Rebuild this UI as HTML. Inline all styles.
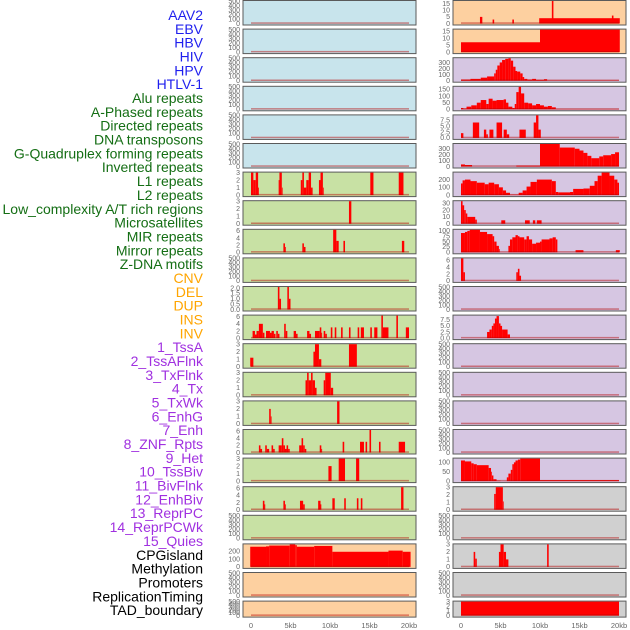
<!DOCTYPE html>
<html><head><meta charset="utf-8"><style>
html,body{margin:0;padding:0;background:#fff;width:630px;height:630px;overflow:hidden}
svg{display:block;font-family:"Liberation Sans",sans-serif}
</style></head><body>
<svg id="chart" width="630" height="630" viewBox="0 0 630 630"></svg>
<script>
const labels=["AAV2","EBV","HBV","HIV","HPV","HTLV-1","Alu repeats","A-Phased repeats","Directed repeats","DNA transposons","G-Quadruplex forming repeats","Inverted repeats","L1 repeats","L2 repeats","Low_complexity A/T rich regions","Microsatellites","MIR repeats","Mirror repeats","Z-DNA motifs","CNV","DEL","DUP","INS","INV","1_TssA","2_TssAFlnk","3_TxFlnk","4_Tx","5_TxWk","6_EnhG","7_Enh","8_ZNF_Rpts","9_Het","10_TssBiv","11_BivFlnk","12_EnhBiv","13_ReprPC","14_ReprPCWk","15_Quies","CPGisland","Methylation","Promoters","ReplicationTiming","TAD_boundary"];
const labelColors=["#1f1fee","#1f1fee","#1f1fee","#1f1fee","#1f1fee","#1f1fee","#146e14","#146e14","#146e14","#146e14","#146e14","#146e14","#146e14","#146e14","#146e14","#146e14","#146e14","#146e14","#146e14","#ffa500","#ffa500","#ffa500","#ffa500","#ffa500","#a030e0","#a030e0","#a030e0","#a030e0","#a030e0","#a030e0","#a030e0","#a030e0","#a030e0","#a030e0","#a030e0","#a030e0","#a030e0","#a030e0","#a030e0","#000","#000","#000","#000","#000"];
const leftBg=["#c8e4ec","#c8e4ec","#c8e4ec","#c8e4ec","#c8e4ec","#c8e4ec","#c8e1a4","#c8e1a4","#c8e1a4","#c8e1a4","#c8e1a4","#c8e1a4","#c8e1a4","#c8e1a4","#c8e1a4","#c8e1a4","#c8e1a4","#c8e1a4","#c8e1a4","#fdd0a0","#fdd0a0","#fdd0a0"];
const rightBg=["#fdd0a0","#fdd0a0","#d6c6e2","#d6c6e2","#d6c6e2","#d6c6e2","#d6c6e2","#d6c6e2","#d6c6e2","#d6c6e2","#d6c6e2","#d6c6e2","#d6c6e2","#d6c6e2","#d6c6e2","#d6c6e2","#d6c6e2","#d0d0d0","#d0d0d0","#d0d0d0","#d0d0d0","#d0d0d0"];
const E=[0,100,200,300,400,500];
const T3=[0,1,2,3], T6=[0,2,4,6];
const leftMax=[500,500,500,500,500,500,3,3,6.3,500,2.1,6.3,3,3,3,6.3,3,6.3,500,290,500,500];
const leftTicks=[E,E,E,E,E,E,T3,T3,T6,E,[0,0.5,1,1.5,2],T6,T3,T3,T3,T6,T3,T6,E,[0,100,200],E,E];
const rightMax=[17,16,370,170,9.5,380,290,33,105,6.5,500,9.2,500,500,500,500,120,3,500,3,500,3];
const rightTicks=[[0,5,10,15],[0,5,10,15],[0,100,200,300],[0,50,100,150],[0,2.5,5,7.5],[0,100,200,300],[0,100,200],[0,10,20,30],[0,25,50,75,100],T6,E,[0,2.5,5,7.5],E,E,E,E,[0,50,100],T3,E,T3,E,T3];
const leftSegs=[[],[],[],[],[],[],
[[0,0.3,3],[0.3,0.6,2],[0.6,0.9,3],[0.9,1.0,1],[3.5,3.6,2],[3.6,3.9,3],[3.9,4.0,1],[6.3,6.5,2],[6.5,6.7,3],[6.7,7.0,1],[7.0,7.3,2],[7.3,7.6,3],[7.6,7.8,1],[8.6,8.8,2],[8.8,9.1,3],[9.1,9.2,1],[15.1,15.5,3],[18.7,19.3,3]],
[[12.4,12.7,3]],
[[4.1,4.3,2.5],[4.3,4.4,1.5],[6.5,6.7,2.5],[6.7,6.9,1.5],[10.4,10.8,6.3],[10.8,11.1,3.2],[11.7,11.9,3.2],[19.1,19.4,3.2]],
[],
[[3.4,3.6,2.1],[3.6,3.8,1],[4.6,4.8,2.1],[4.8,5.0,1]],
[[0.2,0.5,2],[0.5,0.7,1],[0.7,1.0,2],[1.0,1.5,4],[1.5,1.7,1.5],[1.9,2.4,2],[2.4,2.6,1.5],[2.6,2.9,2],[2.9,3.1,1.2],[3.2,3.4,2],[3.4,3.6,1.2],[4.2,4.4,4],[4.4,4.6,2],[5.4,5.7,2],[5.7,5.9,1.2],[7.1,7.4,2],[7.4,7.6,1.2],[8.1,8.7,2],[8.7,8.9,3],[8.9,9.0,1.5],[9.2,9.4,2],[9.4,9.6,1.2],[10.1,10.3,3],[10.6,10.8,3],[11.4,11.6,3],[12.4,12.6,3],[13.5,13.7,3],[13.9,14.3,3],[15.1,15.3,3],[15.6,16.0,3],[16.5,16.7,6.3],[16.7,17.4,3],[18.4,18.6,6.3],[19.6,20.0,3]],
[[-0.1,0.3,1.2],[7.9,8.1,2],[8.1,8.6,3],[8.6,8.9,1],[12.4,13.4,3]],
[[6.9,7.1,2],[7.1,7.3,3],[7.3,7.6,2],[7.6,7.8,3],[7.8,8.1,2],[8.1,8.3,1],[9.2,9.4,2],[9.4,10.1,3],[10.1,10.4,1]],
[[2.3,2.5,2],[2.5,2.6,1],[10.9,11.2,3]],
[[1.0,1.2,2],[1.2,1.4,1],[1.8,2.0,2],[2.0,2.3,1],[2.6,2.8,2],[2.8,3.0,1],[3.5,3.9,2],[3.9,4.1,4],[4.1,4.3,2],[4.3,4.5,1],[4.5,4.7,2],[4.7,4.9,1],[6.1,6.4,2],[6.4,6.6,4],[6.6,6.8,2],[6.8,7.0,1],[8.7,8.9,2],[8.9,9.0,1],[11.6,11.8,3],[13.8,14.3,3],[14.5,14.7,3],[15.0,15.2,6.3],[16.2,16.4,3],[18.7,19.5,3]],
[[9.8,10.2,2],[11.1,11.9,3],[13.3,13.7,3]],
[[1.5,1.7,2.5],[1.7,1.8,1.5],[4.1,4.3,2.5],[4.3,4.4,1.5],[6.2,6.6,2.5],[6.6,6.8,1.5],[8.5,8.8,2.5],[8.8,8.9,1.5],[10.3,10.6,3.2],[11.8,12.0,3.2],[13.4,13.6,3.2],[13.9,14.1,3.2],[19.0,19.3,6.3]],
[],
[[-0.1,1.9,260],[1.9,2.3,265],[2.3,4.9,275],[4.9,5.6,290],[5.6,5.8,280],[5.8,8.0,260],[8.0,10.3,270],[10.3,17.4,195],[17.4,19.2,210],[19.2,20.2,195]],
[],[]];
const rightSegs=[
[[2.4,2.7,5],[4.0,4.2,3],[6.5,6.7,3],[9.9,20.1,4],[11.5,11.7,17],[19.1,19.3,6]],
[[0,10,7],[10,20.1,16]],
[[0,1.2,20],[1.2,2.5,30],[2.5,3.3,50],[3.3,4.2,70],[4.2,4.4,120],[4.4,4.6,180],[4.6,4.9,250],[4.9,5.2,300],[5.2,5.6,340],[5.6,6.0,360],[6.0,6.3,370],[6.3,6.6,330],[6.6,6.9,230],[6.9,7.1,160],[7.1,7.5,150],[7.5,7.8,120],[7.8,8.0,60],[8.0,8.4,30],[8.4,9.0,20],[9.0,9.5,30],[9.5,10.5,15],[10.5,10.9,25],[10.9,20,4]],
[[0,0.3,10],[0.3,0.7,5],[0.7,1.3,20],[1.3,2.0,30],[2.0,2.5,50],[2.5,3.2,70],[3.2,3.5,40],[3.5,4.0,80],[4.0,4.5,65],[4.5,5.4,70],[5.4,5.7,75],[5.7,6.0,50],[6.0,6.5,20],[6.5,6.8,10],[6.8,7.0,40],[7.0,7.3,130],[7.3,7.6,170],[7.6,8.0,120],[8.0,8.5,50],[8.5,9.0,45],[9.0,9.5,30],[9.5,10.0,40],[10.0,10.5,30],[10.5,11.0,20],[11.0,11.5,25],[11.5,12.0,15],[12.0,20,2]],
[[0,0.3,2],[1.5,2.3,6.5],[2.9,3.2,3.5],[3.2,3.4,1.5],[3.6,4.1,3.5],[4.5,5.2,6.5],[5.4,5.8,3.5],[5.8,6.1,1.5],[7.4,8.2,3.5],[9.2,9.5,6.5],[9.5,9.8,9.5],[9.8,10.1,3.5]],
[[0,0.5,35],[0.5,1.4,25],[7.0,10.0,15],[10.0,12.5,380],[12.5,14.4,320],[14.4,15.0,300],[15.0,15.5,270],[15.5,16.0,230],[16.0,16.5,180],[16.5,17.5,140],[17.5,18.0,170],[18.0,19.0,190],[19.0,19.5,210],[19.5,20.0,240]],
[[0,0.2,150],[0.2,0.5,190],[0.5,1.2,200],[1.2,2.0,180],[2.0,3.0,160],[3.0,3.5,140],[3.5,4.2,160],[4.2,4.8,140],[4.8,5.3,100],[5.3,5.7,60],[5.7,6.2,30],[6.2,7.3,5],[7.3,7.8,30],[7.8,8.3,60],[8.3,8.8,110],[8.8,9.6,170],[9.6,11.5,200],[11.5,12.0,180],[12.0,12.3,40],[12.3,13.8,35],[13.8,14.2,40],[14.2,15.5,80],[15.5,16.3,85],[16.3,16.9,120],[16.9,17.3,180],[17.3,17.8,250],[17.8,18.8,290],[18.8,19.4,250],[19.4,19.8,200],[19.8,20.0,160]],
[[0,0.2,33],[0.2,0.4,27],[0.4,0.6,20],[0.6,0.8,15],[0.8,1.8,10],[1.8,2.0,6],[5.1,5.6,5],[8.1,8.7,5],[9.1,9.4,5],[9.6,10.2,5]],
[[0,0.5,90],[0.5,0.8,95],[0.8,1.1,100],[1.1,2.4,105],[2.4,3.3,95],[3.3,4.0,85],[4.0,4.2,75],[4.2,4.5,50],[4.5,4.8,30],[4.8,4.9,15],[6.0,6.2,30],[6.2,6.5,60],[6.5,6.9,70],[6.9,7.2,80],[7.2,7.4,75],[7.4,8.0,70],[8.0,8.3,60],[8.3,8.6,75],[8.6,9.0,60],[9.0,9.5,40],[9.5,10.0,45],[10.0,10.2,50],[10.2,11.2,60],[11.2,11.6,65],[11.6,12.0,70],[12.0,12.2,60],[14.5,15.5,10],[19.6,20.1,10]],
[[0,0.3,6.5],[0.3,0.5,2.5],[7.0,7.2,2.5],[7.2,7.4,3.5],[7.4,7.6,1.5]],
[],
[[3.3,3.6,2.5],[3.6,3.9,3.5],[3.9,4.1,5],[4.1,4.3,6],[4.3,4.5,8],[4.5,4.8,9],[4.8,5.0,6],[5.0,5.2,5],[5.2,5.9,3.5],[5.9,6.2,1.5]],
[],[],[],[],
[[0,0.5,110],[0.5,1.3,105],[1.3,1.6,95],[1.6,2.0,90],[2.0,3.5,85],[3.5,3.8,70],[3.8,3.9,50],[3.9,4.1,30],[4.1,4.5,10],[4.5,5.0,2],[5.8,6.0,20],[6.0,6.3,40],[6.3,6.5,60],[6.5,6.7,90],[6.7,6.9,100],[6.9,7.2,110],[7.2,7.5,115],[7.5,10.0,120],[10.0,20.0,5]],
[[4.2,4.4,2.1],[4.4,5.3,3],[5.3,5.4,1.1]],
[],
[[1.6,1.8,2],[1.8,2.0,1.1],[4.8,5.0,2],[5.0,5.4,3],[5.4,5.7,2],[5.7,6.0,1],[10.9,11.1,3]],
[],
[[0,20,3]]];
const xTickVals=[0,5,10,15,20];
const xTickLabels=["0","5kb","10kb","15kb","20kb"];

const NS="http://www.w3.org/2000/svg";
const svg=document.getElementById('chart');
function mk(tag,attrs,parent){const e=document.createElementNS(NS,tag);for(const k in attrs)e.setAttribute(k,attrs[k]);(parent||svg).appendChild(e);return e;}
const cols=[{x:243,x0:251,bg:leftBg,max:leftMax,ticks:leftTicks,segs:leftSegs,side:'left'},{x:453,x0:461,bg:rightBg,max:rightMax,ticks:rightTicks,segs:rightSegs,side:'right'}];
const PW=173, KB=7.9;
function xScale(c,kb){return c.x0+kb*KB;}
function fmt(v,arr){const dec=arr.some(t=>t%1!==0);return dec?v.toFixed(1):String(v);}

labels.forEach((t,i)=>{
  const e=mk('text',{x:203,y:15+i*13.84+5,'text-anchor':'end','font-size':'14',fill:labelColors[i]});
  e.textContent=t;
  
  
});

cols.forEach(c=>{
  for(let r=0;r<22;r++){
    const top=r*28.6+0.5, h=(r===21?16:24.5);
    const g=mk('g',{});
    
    
    const bg=mk('rect',{x:c.x,y:top,width:PW,height:h,fill:c.bg[r],stroke:'#5a5a5a','stroke-width':1},g);
    
    
    const y0=top+h-1.5, y1=top+0.5, ymax=c.max[r];
    const yS=v=>y0-(v/ymax)*(y0-y1);
    c.segs[r].forEach(s=>{
      const x1=xScale(c,s[0]), x2=xScale(c,s[1]);
      const b=mk('rect',{x:x1,y:yS(s[2]),width:Math.max(x2-x1,0.8),height:y0-yS(s[2]),fill:'#ff0000'},g);
      
      
    });
    const bl=mk('rect',{x:xScale(c,0),y:y0-1.2,width:20*KB,height:1.5,fill:'rgba(180,0,0,0.45)'},g);
    
    
    c.ticks[r].forEach(tv=>{
      const t=mk('text',{x:c.x-3,y:yS(tv)+2.3,'text-anchor':'end','font-size':'7',fill:'#666'},g);
      t.textContent=fmt(tv,c.ticks[r]);
      
      
    });
  }
  xTickVals.forEach((v,i)=>{
    const t=mk('text',{x:xScale(c,v),y:628,'text-anchor':'middle','font-size':'7.5',fill:'#666'});
    t.textContent=xTickLabels[i];
    
    
  });
});
</script>
</body></html>
